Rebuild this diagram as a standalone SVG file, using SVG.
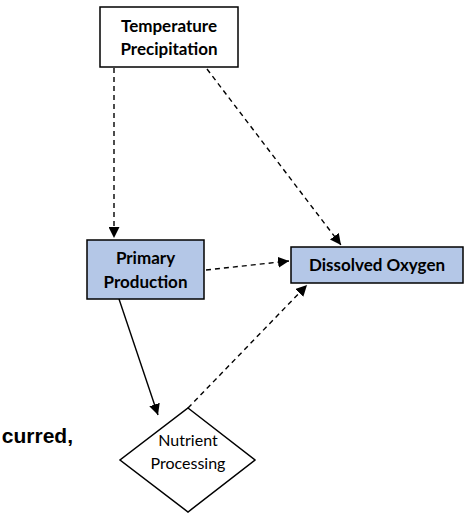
<svg xmlns="http://www.w3.org/2000/svg" width="472" height="513" viewBox="0 0 472 513">
  <style>
    .box { stroke: #000; stroke-width: 1.5; }
    .plain { fill: #fff; }
    .blue { fill: #b4c7e7; }
    .lbl { font-family: Lato, "Open Sans", sans-serif; font-size: 17px; fill: #000; text-anchor: middle; }
    .bold { font-weight: bold; }
    .thin { font-size: 16px; }
    .edge { stroke: #000; stroke-width: 1.4; fill: none; }
    .dash { stroke-dasharray: 5 4; }
    .side { font-family: "Liberation Sans", Arial, sans-serif; font-weight: bold; font-size: 21px; fill: #000; text-anchor: end; }
  </style>
  <defs>
    <marker id="arrow" viewBox="0 0 10 10" refX="10" refY="5" markerWidth="11" markerHeight="11" markerUnits="userSpaceOnUse" orient="auto">
      <path d="M0,0 L10,5 L0,10 z" fill="#000"/>
    </marker>
  </defs>

  <rect width="472" height="513" fill="#fff"/>

  <text class="side" x="73" y="443">curred,</text>

  <g id="connectors">
    <line class="edge dash" x1="114" y1="68" x2="114" y2="238" marker-end="url(#arrow)"/>
    <line class="edge dash" x1="207" y1="69" x2="341" y2="245" marker-end="url(#arrow)"/>
    <line class="edge dash" x1="206" y1="270" x2="289" y2="261" marker-end="url(#arrow)"/>
    <line class="edge" x1="119" y1="299" x2="158" y2="415" marker-end="url(#arrow)"/>
    <line class="edge dash" x1="188" y1="408" x2="307" y2="285" marker-end="url(#arrow)"/>
  </g>

  <g id="climate">
    <rect class="box plain" x="100" y="7" width="138" height="60"/>
    <text class="lbl bold" x="169" y="32">Temperature</text>
    <text class="lbl bold" x="169" y="55">Precipitation</text>
  </g>

  <g id="primary-production">
    <rect class="box blue" x="87" y="240" width="117" height="59"/>
    <text class="lbl bold" x="145.5" y="264">Primary</text>
    <text class="lbl bold" x="145.5" y="288">Production</text>
  </g>

  <g id="dissolved-oxygen">
    <rect class="box blue" x="291" y="247" width="172" height="36"/>
    <text class="lbl bold" x="377" y="271">Dissolved Oxygen</text>
  </g>

  <g id="nutrient-processing">
    <polygon class="box plain" points="188,408 255,460 188,512 120,460"/>
    <text class="lbl thin" x="188" y="446">Nutrient</text>
    <text class="lbl thin" x="188" y="469">Processing</text>
  </g>
</svg>
